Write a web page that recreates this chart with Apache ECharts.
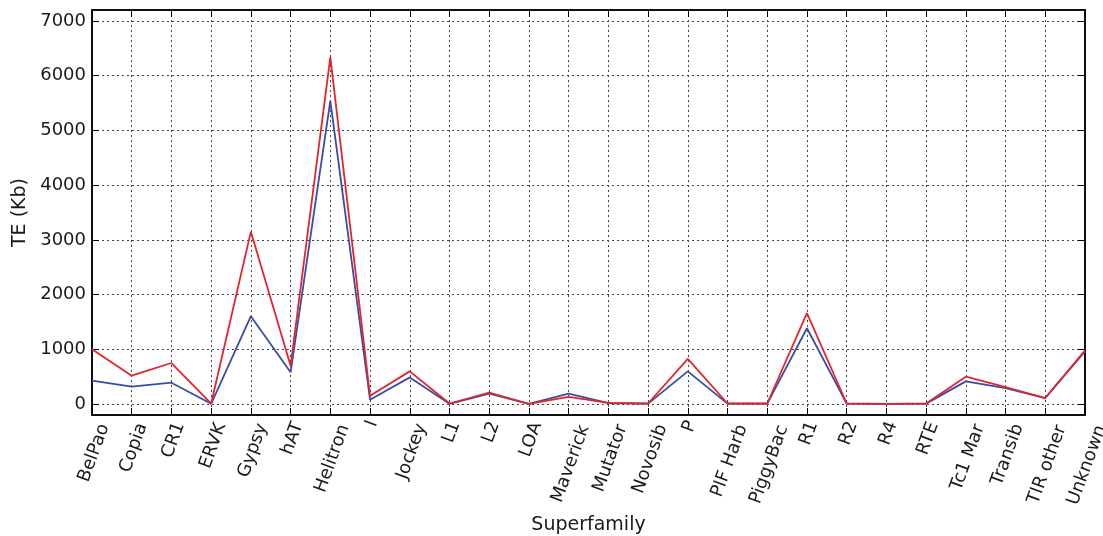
<!DOCTYPE html>
<html>
<head>
<meta charset="utf-8">
<script src="https://cdn.jsdelivr.net/npm/echarts@6/dist/echarts.min.js"></script>
<style>html,body{margin:0;padding:0;background:#fff}#c{width:1103px;height:536px}</style>
</head>
<body>
<div id="c"></div>
<script>
var categories = ['BelPao','Copia','CR1','ERVK','Gypsy','hAT','Helitron','I','Jockey','L1','L2','LOA','Maverick','Mutator','Novosib','P','PIF Harb','PiggyBac','R1','R2','R4','RTE','Tc1 Mar','Transib','TIR other','Unknown'];
var redValues  = [1000, 518, 750, 10, 3150, 700, 6340, 150, 597, 10, 210, 5, 130, 20, 10, 824, 10, 10, 1660, 10, 5, 10, 500, 310, 110, 980];
var blueValues = [ 427, 317, 390,  5, 1605, 580, 5540,  80, 487,  5, 190, 5, 190, 15,  8, 597,  8,  8, 1385,  8, 5, 8, 414, 290, 110, 960];
var yTicks = [0,1000,2000,3000,4000,5000,6000,7000];

var FONT = 'DejaVu Sans';
var FS = 18;
var NFS = 19;
var ROT = 70;
var txt = '#1a1a1a';
var ctx = document.createElement('canvas').getContext('2d');
ctx.font = FS + 'px "' + FONT + '"';
var rad = ROT * Math.PI / 180;
var rich = {};
categories.forEach(function (c, i) {
  var w = ctx.measureText(c).width;
  var dx = w * Math.cos(rad) / 2 + 2;
  var b = dx / Math.sin(rad);
  rich['s' + i] = { padding: [2 * b, 0, 0, 0], fontSize: FS, fontFamily: FONT, color: txt };
});

var chart = echarts.init(document.getElementById('c'));
var gridLine = { show: true, lineStyle: { color: '#444', type: [2, 3], width: 1 } };
chart.setOption({
  animation: false,
  backgroundColor: '#fff',
  textStyle: { fontFamily: FONT },
  grid: { left: 92, right: 18, top: 10, bottom: 121, outerBoundsMode: 'none', containLabel: false,
    show: true, borderColor: '#000', borderWidth: 1.5, backgroundColor: 'transparent' },
  xAxis: [{
    type: 'category', data: categories, boundaryGap: false, position: 'bottom',
    name: 'Superfamily', nameLocation: 'middle', nameGap: 95,
    nameTextStyle: { fontSize: NFS, color: txt, fontFamily: FONT },
    axisLine: { show: true, onZero: false, lineStyle: { color: '#000', width: 1.5 } },
    axisTick: { show: true, inside: true, length: 7, alignWithLabel: true, lineStyle: { color: '#000', width: 1 } },
    axisLabel: { show: true, interval: 0, rotate: ROT, margin: 5, fontSize: FS, color: txt, fontFamily: FONT, verticalAlign: 'middle',
      hideOverlap: false,
      formatter: function (v, i) { return '{s' + i + '|' + v + '}'; }, rich: rich },
    splitLine: gridLine
  }, {
    type: 'category', data: categories, boundaryGap: false, position: 'top',
    axisLine: { show: true, onZero: false, lineStyle: { color: '#000', width: 1.5 } },
    axisTick: { show: true, inside: true, length: 7, interval: 0, lineStyle: { color: '#000', width: 1 } },
    axisLabel: { show: false }, splitLine: { show: false }
  }],
  yAxis: [{
    type: 'value', min: -200, max: 7200, splitNumber: 8,
    name: 'TE (Kb)', nameLocation: 'middle', nameGap: 60, nameRotate: 90,
    nameTextStyle: { fontSize: NFS, color: txt, fontFamily: FONT },
    axisLine: { show: true, onZero: false, lineStyle: { color: '#000', width: 1.5 } },
    axisTick: { show: true, inside: true, length: 7, customValues: yTicks, lineStyle: { color: '#000', width: 1 } },
    axisLabel: { show: true, margin: 6, fontSize: FS, color: txt, fontFamily: FONT, customValues: yTicks,
      formatter: function (v) { return yTicks.indexOf(v) >= 0 ? String(v) : ''; } },
    splitLine: gridLine
  }, {
    type: 'value', min: -200, max: 7200, splitNumber: 8, position: 'right',
    axisLine: { show: true, onZero: false, lineStyle: { color: '#000', width: 1.5 } },
    axisTick: { show: true, inside: true, length: 7, customValues: yTicks, lineStyle: { color: '#000', width: 1 } },
    axisLabel: { show: false }, splitLine: { show: false }
  }],
  series: [{
    name: 'blue', type: 'line', data: blueValues, xAxisIndex: 0, yAxisIndex: 0,
    showSymbol: false, symbol: 'none', lineStyle: { color: '#3b4ca3', width: 1.8 }, z: 3
  }, {
    name: 'red', type: 'line', data: redValues, xAxisIndex: 0, yAxisIndex: 0,
    showSymbol: false, symbol: 'none', lineStyle: { color: '#e0262d', width: 1.8 }, z: 4
  }]
});
</script>
</body>
</html>
